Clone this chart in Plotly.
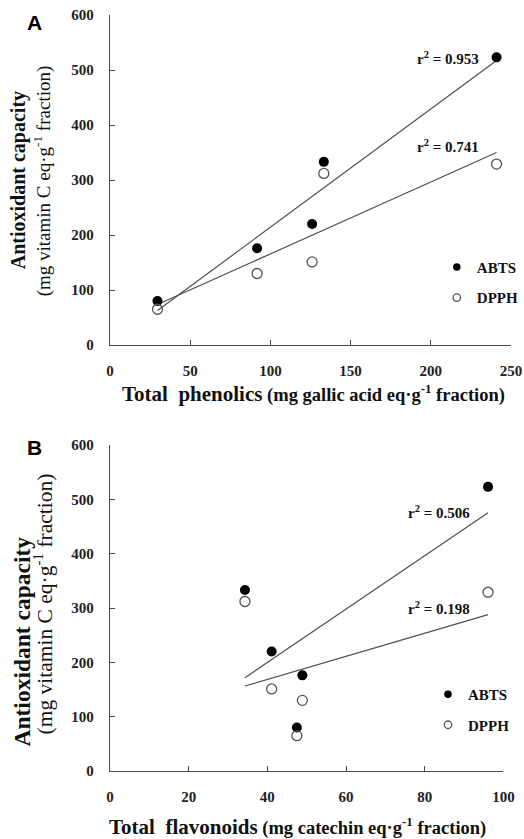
import numpy as np
import plotly.graph_objects as go

# ---- data ----
phenolics = [29.6, 91.7, 126.0, 133.3, 241.0]      # mg gallic acid eq/g fraction
flavonoids = [47.5, 48.9, 41.1, 34.3, 96.1]       # mg catechin eq/g fraction
abts = [80, 176, 220, 333, 523]                    # mg vitamin C eq/g fraction
dpph = [65, 130, 151, 312, 329]
r2_labels_a = ["r<sup>2</sup> = 0.953", "r<sup>2</sup> = 0.741"]
r2_labels_b = ["r<sup>2</sup> = 0.506", "r<sup>2</sup> = 0.198"]
yticks = [0, 100, 200, 300, 400, 500, 600]
xticks_a = [0, 50, 100, 150, 200, 250]
xticks_b = [0, 20, 40, 60, 80, 100]

SERIF = "Liberation Serif"
AXC = "#4a4a4a"
LINEC = "#505050"

fig = go.Figure()


def fit_line(x, y):
    k, b = np.polyfit(x, y, 1)
    xs = np.array([min(x), max(x)])
    return xs, k * xs + b


ABTS_MARK = dict(symbol="circle", color="black", line=dict(color="black", width=0))
DPPH_MARK = dict(symbol="circle-open", color="#555555", line=dict(width=1.3))


def add_panel(x, xa, ya, legend):
    for yv in (abts, dpph):
        xs, ys = fit_line(x, yv)
        fig.add_trace(go.Scatter(x=xs, y=ys, mode="lines", xaxis=xa, yaxis=ya,
                                 line=dict(color=LINEC, width=1.2),
                                 showlegend=False, hoverinfo="skip"))
    fig.add_trace(go.Scatter(x=x, y=abts, mode="markers", name="ABTS",
                             xaxis=xa, yaxis=ya, showlegend=False,
                             marker=dict(size=10, **ABTS_MARK)))
    fig.add_trace(go.Scatter(x=x, y=dpph, mode="markers", name="DPPH",
                             xaxis=xa, yaxis=ya, showlegend=False,
                             marker=dict(size=10, **DPPH_MARK)))
    # legend-only entries (smaller symbols, as in the reference key)
    fig.add_trace(go.Scatter(x=[None], y=[None], mode="markers", name="ABTS",
                             xaxis=xa, yaxis=ya, legend=legend, legendgroup=legend + "a",
                             marker=dict(size=7.5, **ABTS_MARK)))
    fig.add_trace(go.Scatter(x=[None], y=[None], mode="markers", name="DPPH",
                             xaxis=xa, yaxis=ya, legend=legend, legendgroup=legend + "d",
                             marker=dict(size=7.5, **DPPH_MARK)))


add_panel(phenolics, "x", "y", "legend")
add_panel(flavonoids, "x2", "y2", "legend2")

axis_common = dict(showline=True, linecolor=AXC, linewidth=1.3, ticks="inside",
                   ticklen=5, tickcolor=AXC, tickwidth=1.2, showgrid=False,
                   zeroline=False, ticklabelstandoff=12, ticklabeloverflow="allow",
                   tickfont=dict(family=SERIF, size=15, color="#222222", weight=700))

leg_common = dict(font=dict(family=SERIF, size=15, color="#111111", weight=700),
                  bgcolor="rgba(0,0,0,0)", itemsizing="trace", tracegroupgap=8,
                  xanchor="left", yanchor="top", itemwidth=30)

fig.update_layout(
    width=524, height=839,
    margin=dict(l=110, r=13, t=15, b=68, autoexpand=False),
    paper_bgcolor="white", plot_bgcolor="white",
    xaxis=dict(domain=[0, 1], range=[0, 250], tickvals=xticks_a, anchor="y", **axis_common),
    yaxis=dict(domain=[0.5635, 1.0], range=[0, 600], tickvals=yticks, anchor="x", **axis_common),
    xaxis2=dict(domain=[0, 0.981], range=[0, 100], tickvals=xticks_b, anchor="y2", **axis_common),
    yaxis2=dict(domain=[0, 0.4312], range=[0, 600], tickvals=yticks, anchor="x2", **axis_common),
    legend=dict(x=0.815, y=0.688, **leg_common),
    legend2=dict(x=0.793, y=0.123, **leg_common),
)

ann = []
# r^2 labels
for txt, yv in zip(r2_labels_a, (522, 362)):
    ann.append(dict(x=231, y=yv, xref="x", yref="y", text="<b>" + txt + "</b>",
                    xanchor="right", yanchor="middle", showarrow=False,
                    font=dict(family=SERIF, size=15, color="#111111")))
for txt, yv in zip(r2_labels_b, (477, 300)):
    ann.append(dict(x=91.9, y=yv, xref="x2", yref="y2", text="<b>" + txt + "</b>",
                    xanchor="right", yanchor="middle", showarrow=False,
                    font=dict(family=SERIF, size=15, color="#111111")))


def px_x(px):
    return (px - 110) / 401.0


def px_y(py):
    return (771 - py) / 756.0


# panel letters
for letter, py in (("A", 22), ("B", 447)):
    ann.append(dict(x=px_x(34), y=px_y(py), xref="paper", yref="paper", text="<b>%s</b>" % letter,
                    showarrow=False, xanchor="center", yanchor="middle",
                    font=dict(family="Liberation Sans", size=21, color="black")))

# x titles
ann.append(dict(x=px_x(313), y=px_y(393), xref="paper", yref="paper", showarrow=False,
                xanchor="center", yanchor="middle",
                text="<b><span style='font-size:21px'>Total\u00a0 phenolics</span>"
                     " (mg gallic acid eq·g<sup>-1</sup> fraction)</b>",
                font=dict(family=SERIF, size=18.5, color="#111111")))
ann.append(dict(x=px_x(297), y=px_y(827), xref="paper", yref="paper", showarrow=False,
                xanchor="center", yanchor="middle",
                text="<b><span style='font-size:21px'>Total\u00a0 flavonoids</span>"
                     " (mg catechin eq·g<sup>-1</sup> fraction)</b>",
                font=dict(family=SERIF, size=18.5, color="#111111")))

# y titles (two lines each)
for (cx1, cy1, s1), (cx2, cy2, s2) in (((18.3, 180, 20), (43.3, 181, 19)),
                                        ((21.5, 642, 23.5), (42.5, 604, 21.5))):
    ann.append(dict(x=px_x(cx1), y=px_y(cy1), xref="paper", yref="paper", showarrow=False,
                    textangle=-90, xanchor="center", yanchor="middle",
                    text="<b>Antioxidant capacity</b>",
                    font=dict(family=SERIF, size=s1, color="#111111")))
    ann.append(dict(x=px_x(cx2), y=px_y(cy2), xref="paper", yref="paper", showarrow=False,
                    textangle=-90, xanchor="center", yanchor="middle",
                    text="(mg vitamin C eq·g<sup>-1</sup> fraction)",
                    font=dict(family=SERIF, size=s2, color="#111111")))

fig.update_layout(annotations=ann)
# remove the default 8px body margin so the 524x839 figure fills the window exactly
fig.write_html("out.html", config={"displayModeBar": False},
               post_script="document.body.style.margin='0';document.body.style.overflow='hidden';")
